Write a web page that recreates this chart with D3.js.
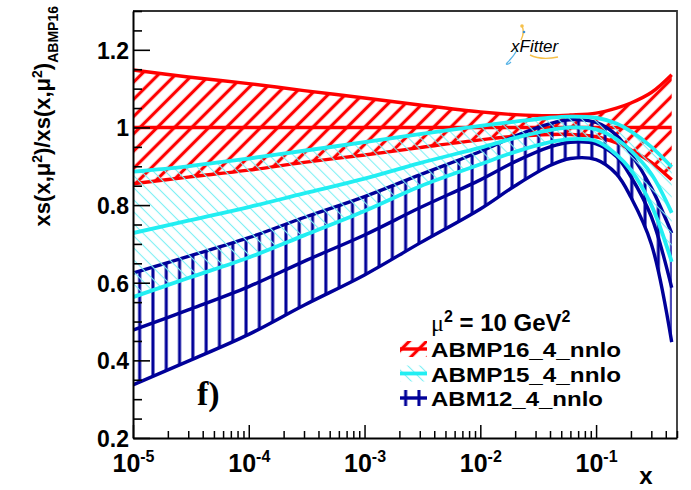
<!DOCTYPE html>
<html>
<head>
<meta charset="utf-8">
<script src="https://cdn.jsdelivr.net/npm/d3@7"></script>
<style>
  html, body { margin: 0; padding: 0; background: #fff; }
  svg { display: block; }
  text { font-family: "Liberation Sans", Arial, Helvetica, sans-serif; font-weight: bold; fill: #000; }
</style>
</head>
<body>
<svg id="chart" width="691" height="490"></svg>
<script>
// Sampling points in x for all three PDF-set ratios
const xGrid = [1e-5, 3e-5, 1e-4, 3e-4, 1e-3, 3e-3, 1e-2, 2e-2, 4e-2, 6e-2, 0.1, 0.15, 0.2, 0.3, 0.45];

// ABMP16_4_nnlo (reference set): central value and uncertainty band
const abmp16Cen = [1, 1, 1, 1, 1, 1, 1, 1, 1, 1, 1, 1, 1, 1, 1];
const abmp16Up  = [1.148, 1.130, 1.113, 1.095, 1.076, 1.058, 1.040, 1.033, 1.030, 1.032, 1.037, 1.050, 1.063, 1.090, 1.136];
const abmp16Lo  = [0.855, 0.872, 0.890, 0.910, 0.929, 0.948, 0.968, 0.977, 0.982, 0.982, 0.976, 0.960, 0.942, 0.910, 0.865];

// ABMP15_4_nnlo
const abmp15Up  = [0.886, 0.900, 0.920, 0.940, 0.962, 0.983, 1.004, 1.015, 1.025, 1.028, 1.025, 1.010, 0.990, 0.950, 0.898];
const abmp15Cen = [0.728, 0.760, 0.795, 0.830, 0.868, 0.908, 0.948, 0.973, 0.993, 1.000, 0.995, 0.970, 0.940, 0.880, 0.780];
const abmp15Lo  = [0.563, 0.612, 0.665, 0.722, 0.785, 0.848, 0.905, 0.937, 0.962, 0.970, 0.965, 0.930, 0.890, 0.800, 0.654];

// ABM12_4_nnlo
const abm12Up  = [0.625, 0.668, 0.716, 0.768, 0.822, 0.878, 0.938, 0.978, 1.010, 1.020, 1.013, 0.980, 0.932, 0.845, 0.728];
const abm12Cen = [0.478, 0.530, 0.590, 0.655, 0.723, 0.793, 0.865, 0.912, 0.950, 0.962, 0.958, 0.925, 0.873, 0.770, 0.587];
const abm12Lo  = [0.337, 0.398, 0.467, 0.542, 0.620, 0.702, 0.790, 0.850, 0.902, 0.920, 0.917, 0.880, 0.820, 0.700, 0.447];

// Axis ticks
const xMajor = [1e-5, 1e-4, 1e-3, 1e-2, 1e-1];
const xExponents = ["-5", "-4", "-3", "-2", "-1"];
const yMajor = [0.2, 0.4, 0.6, 0.8, 1.0, 1.2];
const yLabels = ["0.2", "0.4", "0.6", "0.8", "1", "1.2"];

const legendEntries = ["ABMP16_4_nnlo", "ABMP15_4_nnlo", "ABM12_4_nnlo"];

const svg = d3.select("#chart");
const frame = { left: 133, right: 677, top: 11, bottom: 438 };

const x = d3.scaleLog().domain([1e-5, 0.5]).range([frame.left, frame.right]);
const y = d3.scaleLinear().domain([0.2, 1.3]).range([frame.bottom, frame.top]);

// Hatch patterns
const defs = svg.append("defs");
function hatch(id, angle, spacing, color, width) {
  const p = defs.append("pattern")
    .attr("id", id)
    .attr("patternUnits", "userSpaceOnUse")
    .attr("width", spacing).attr("height", spacing)
    .attr("patternTransform", `rotate(${angle})`);
  p.append("line")
    .attr("x1", spacing / 2).attr("y1", -2)
    .attr("x2", spacing / 2).attr("y2", spacing + 2)
    .attr("stroke", color).attr("stroke-width", width);
}
hatch("hatchRed", 45, 12.2, "#ff0000", 3.2);
hatch("hatchCyan", -45, 8.5, "#7ff0f4", 1.1);
hatch("hatchBlue", 0, 13.3, "#000099", 3.0);

defs.append("clipPath").attr("id", "plotClip")
  .append("rect")
  .attr("x", frame.left).attr("y", frame.top)
  .attr("width", frame.right - frame.left).attr("height", frame.bottom - frame.top);

const plot = svg.append("g").attr("clip-path", "url(#plotClip)");

const curve = d3.curveCatmullRom.alpha(0.5);
const area = d3.area()
  .x(d => x(d.x)).y0(d => y(d.lo)).y1(d => y(d.hi))
  .curve(curve);
const line = d3.line()
  .x(d => x(d.x)).y(d => y(d.v))
  .curve(curve);

function band(up, cen, lo, pattern, color, lw) {
  const bandData = xGrid.map((xv, i) => ({ x: xv, lo: lo[i], hi: up[i] }));
  const g = plot.append("g");
  g.append("path").datum(bandData)
    .attr("d", area).attr("fill", `url(#${pattern})`);
  [up, cen, lo].forEach(arr => {
    g.append("path")
      .datum(xGrid.map((xv, i) => ({ x: xv, v: arr[i] })))
      .attr("d", line)
      .attr("fill", "none")
      .attr("stroke", color)
      .attr("stroke-width", lw)
      .attr("stroke-linejoin", "round");
  });
}

band(abmp16Up, abmp16Cen, abmp16Lo, "hatchRed", "#ff0000", 3.4);
band(abm12Up, abm12Cen, abm12Lo, "hatchBlue", "#000099", 3.4);
band(abmp15Up, abmp15Cen, abmp15Lo, "hatchCyan", "#22eef2", 3.8);

// Frame (top and right)
svg.append("path")
  .attr("d", `M${frame.left},${frame.top}H${frame.right}V${frame.bottom}`)
  .attr("fill", "none").attr("stroke", "#333").attr("stroke-width", 1.8);

// X axis: minor ticks at 2..9 of every decade, then major ticks with labels
const xMinor = [];
for (let e = -5; e <= -1; e++) {
  for (let m = 2; m <= 9; m++) {
    const v = m * Math.pow(10, e);
    if (v <= 0.5) xMinor.push(v);
  }
}
svg.append("g")
  .attr("transform", `translate(0,${frame.bottom})`)
  .call(d3.axisBottom(x).tickValues(xMinor).tickSize(-7).tickFormat(""))
  .call(g => g.select(".domain").remove())
  .call(g => g.selectAll("line").attr("stroke", "#000").attr("stroke-width", 1.5));

const xAxis = svg.append("g")
  .attr("transform", `translate(0,${frame.bottom})`)
  .call(d3.axisBottom(x).tickValues(xMajor).tickSizeInner(-13).tickSizeOuter(0).tickPadding(0).tickFormat(""));
xAxis.select(".domain").attr("stroke", "#000").attr("stroke-width", 2);
xAxis.selectAll("line").attr("stroke", "#000").attr("stroke-width", 1.5);
xAxis.selectAll(".tick").each(function (d, i) {
  const t = d3.select(this).append("text")
    .attr("y", 34).attr("text-anchor", "middle")
    .style("font-size", "25px").attr("fill", "#000");
  t.append("tspan").text("10");
  t.append("tspan").attr("dy", -10).style("font-size", "16px").text(xExponents[i]);
});

svg.append("text")
  .attr("x", 646).attr("y", 484)
  .attr("text-anchor", "middle")
  .style("font-size", "24px")
  .text("x");

// Y axis: minor ticks every 0.05, major every 0.2
const yMinor = d3.range(4, 27).map(k => k * 0.05).filter(v => Math.round(v * 100) % 20 !== 0);
svg.append("g")
  .attr("transform", `translate(${frame.left},0)`)
  .call(d3.axisLeft(y).tickValues(yMinor).tickSize(-9).tickFormat(""))
  .call(g => g.select(".domain").remove())
  .call(g => g.selectAll("line").attr("stroke", "#000").attr("stroke-width", 1.6));

const yAxis = svg.append("g")
  .attr("transform", `translate(${frame.left},0)`)
  .call(d3.axisLeft(y).tickValues(yMajor).tickSizeInner(-17).tickSizeOuter(0).tickPadding(4)
    .tickFormat((d, i) => yLabels[i]));
yAxis.select(".domain").attr("stroke", "#000").attr("stroke-width", 2);
yAxis.selectAll("line").attr("stroke", "#000").attr("stroke-width", 1.6);
yAxis.selectAll("text").style("font-size", "23px").attr("fill", "#000").attr("dy", "0.36em");

// Y title
const yTitle = svg.append("text")
  .attr("transform", "translate(50,6) rotate(-90)")
  .attr("text-anchor", "end")
  .style("font-size", "22px");
yTitle.append("tspan").text("xs(x,μ");
yTitle.append("tspan").attr("dy", -8).style("font-size", "14px").text("2");
yTitle.append("tspan").attr("dy", 8).text(")/xs(x,μ");
yTitle.append("tspan").attr("dy", -8).style("font-size", "14px").text("2");
yTitle.append("tspan").attr("dy", 8).text(")");
yTitle.append("tspan").attr("dy", 8).style("font-size", "14px").text("ABMP16");

// Panel tag
svg.append("text")
  .attr("x", 197).attr("y", 405)
  .style("font-family", "'Liberation Serif', 'Times New Roman', serif")
  .style("font-size", "34px")
  .text("f)");

// Legend
const leg = svg.append("g");
const legHeader = leg.append("text").attr("x", 431).attr("y", 331).style("font-size", "24px");
legHeader.append("tspan").style("font-weight", "normal").style("font-family", "'Liberation Serif', serif").text("μ");
legHeader.append("tspan").attr("dy", -9).style("font-size", "16px").text("2");
legHeader.append("tspan").attr("dy", 9).text(" = 10 GeV");
legHeader.append("tspan").attr("dy", -9).style("font-size", "16px").text("2");

const legStyles = [
  { pattern: "hatchRed", color: "#ff0000", lw: 3.4 },
  { pattern: "hatchCyan", color: "#22eef2", lw: 3.8 },
  { pattern: "hatchBlue", color: "#000099", lw: 3.4 }
];
const legWidths = [190, 190, 172];
legendEntries.forEach((name, i) => {
  const cy = 349 + i * 24.5;
  const s = legStyles[i];
  leg.append("rect")
    .attr("x", 400).attr("y", cy - 8).attr("width", 27).attr("height", 16)
    .attr("fill", `url(#${s.pattern})`);
  leg.append("line")
    .attr("x1", 400).attr("x2", 427).attr("y1", cy).attr("y2", cy)
    .attr("stroke", s.color).attr("stroke-width", s.lw);
  leg.append("text")
    .attr("x", 431).attr("y", cy + 8)
    .style("font-size", "21px")
    .attr("textLength", legWidths[i])
    .attr("lengthAdjust", "spacingAndGlyphs")
    .text(name);
});

// xFitter logo
const logo = svg.append("g");
logo.append("path")
  .attr("d", "M522,26 C524,30 523,36 521,40")
  .attr("fill", "none").attr("stroke", "#f5c04a").attr("stroke-width", 1.4);
logo.append("path")
  .attr("d", "M517,50 C514,56 510,60 507,63 C505,65 508,65 511,62")
  .attr("fill", "none").attr("stroke", "#5ab4e6").attr("stroke-width", 1.2);
logo.append("path")
  .attr("d", "M530,55 C538,59 548,59 558,57")
  .attr("fill", "none").attr("stroke", "#f5c04a").attr("stroke-width", 1.4);
logo.append("circle").attr("cx", 522).attr("cy", 26).attr("r", 1.8).attr("fill", "#f5c04a");
logo.append("circle").attr("cx", 524).attr("cy", 32).attr("r", 1.3).attr("fill", "#3b8fd4");
logo.append("text")
  .attr("x", 511).attr("y", 52)
  .style("font-size", "17px").style("font-style", "italic").style("font-weight", "normal")
  .attr("fill", "#4aa8e0")
  .text("xFitter");
</script>
</body>
</html>
